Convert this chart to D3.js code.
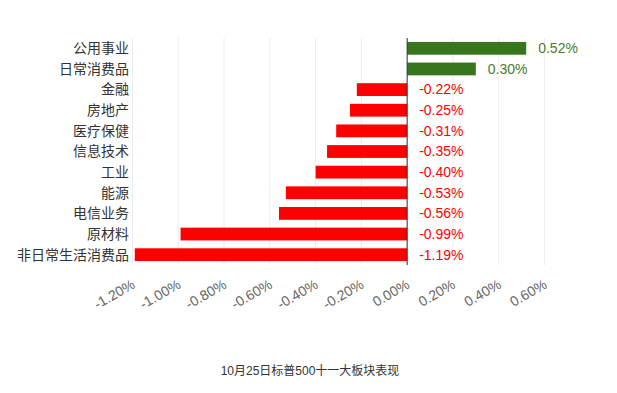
<!DOCTYPE html>
<html><head><meta charset="utf-8">
<script src="https://cdn.jsdelivr.net/npm/d3@7"></script>
<style>body{margin:0;background:#fff}svg{display:block}text{font-family:"Liberation Sans",Arial,"Noto Sans CJK SC",sans-serif}</style>
</head><body>
<svg id="c" width="617" height="393"></svg>
<script>
const categories = ["公用事业","日常消费品","金融","房地产","医疗保健","信息技术","工业","能源","电信业务","原材料","非日常生活消费品"];
const values = [0.52,0.30,-0.22,-0.25,-0.31,-0.35,-0.40,-0.53,-0.56,-0.99,-1.19];
const ticks = [-1.2,-1.0,-0.8,-0.6,-0.4,-0.2,0,0.2,0.4,0.6];
const title = "10月25日标普500十一大板块表现";

const svg = d3.select("#c");
const L=132.5, R=544.5, T=38, B=265;
const x = d3.scaleLinear().domain([-1.2,0.6]).range([L,R]);
const y = d3.scaleBand().domain(categories).range([T,B]).paddingInner(0.38).paddingOuter(0.19);

svg.append("g").selectAll("line").data(ticks).join("line")
  .attr("x1",d=>x(d)).attr("x2",d=>x(d)).attr("y1",T).attr("y2",B)
  .attr("stroke","#ececec").attr("stroke-width",1);

svg.append("g").selectAll("rect").data(values).join("rect")
  .attr("x",d=>Math.min(x(0),x(d))).attr("width",d=>Math.abs(x(d)-x(0)))
  .attr("y",(d,i)=>y(categories[i])).attr("height",y.bandwidth())
  .attr("fill",d=>d>=0?"#38761d":"#ff0000");

svg.append("line").attr("x1",x(0)).attr("x2",x(0)).attr("y1",T).attr("y2",B)
  .attr("stroke","#333").attr("stroke-width",1);

svg.append("g").selectAll("text").data(values).join("text")
  .attr("x",d=>d>=0?x(d)+12:x(0)+12)
  .attr("y",(d,i)=>y(categories[i])+y.bandwidth()/2)
  .attr("dy","0.35em").attr("font-size",14)
  .attr("fill",d=>d>=0?"#4a7a2e":"#ff0000")
  .text(d=>d.toFixed(2)+"%");

svg.append("g").selectAll("text").data(categories).join("text")
  .attr("x",129).attr("y",d=>y(d)+y.bandwidth()/2).attr("dy","0.35em")
  .attr("text-anchor","end").attr("font-size",14).attr("fill","#333")
  .style("font-family","'Noto Sans CJK SC',sans-serif").text(d=>d);

svg.append("g").selectAll("text").data(ticks).join("text")
  .attr("transform",d=>`translate(${x(d)+1},${B+18}) rotate(-30)`)
  .attr("text-anchor","end").attr("dy","0.35em").attr("font-size",14).attr("fill","#666")
  .text(d=>d.toFixed(2)+"%");

svg.append("text").attr("x",310).attr("y",375).attr("text-anchor","middle")
  .attr("font-size",12).attr("fill","#333").text(title);
</script>
</body></html>
